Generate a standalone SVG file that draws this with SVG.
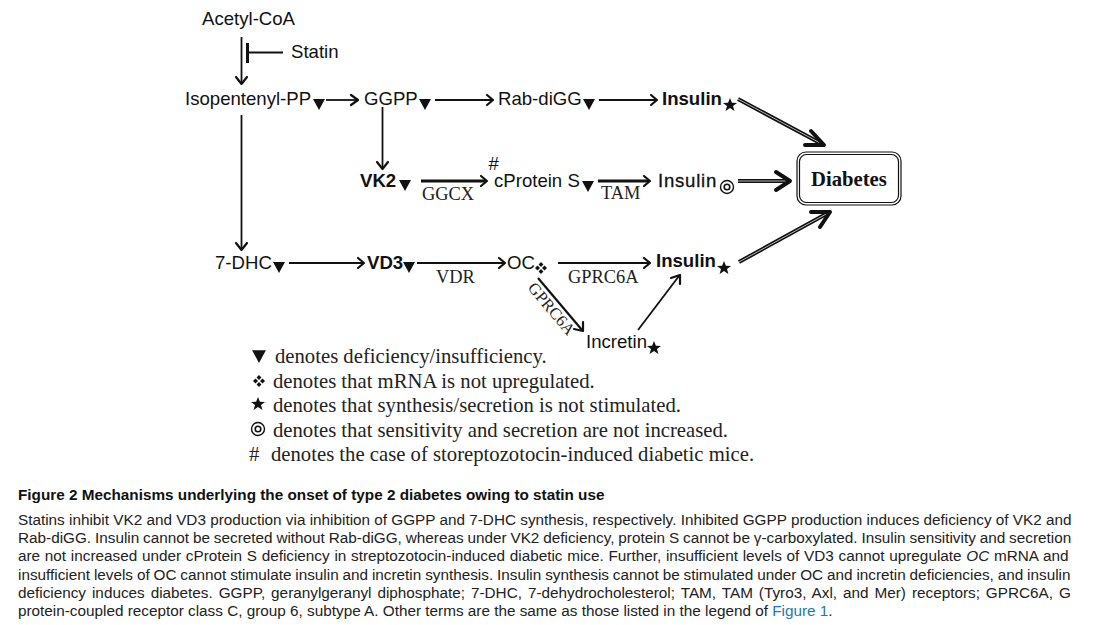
<svg xmlns="http://www.w3.org/2000/svg" width="1096" height="625" viewBox="0 0 1096 625">
<style>
text{fill:#111}
.s{font-family:"Liberation Sans",Arial,sans-serif;font-size:18.6px}
.b{font-family:"Liberation Sans",Arial,sans-serif;font-size:18.6px;font-weight:bold}
.e{font-family:"Liberation Serif","Times New Roman",serif;font-size:18.4px;fill:#222}
.l{font-family:"Liberation Serif","Times New Roman",serif;font-size:20.7px;fill:#222}
.c{font-family:"Liberation Sans",Arial,sans-serif;font-size:15.3px;fill:#222}
.t{font-family:"Liberation Sans",Arial,sans-serif;font-size:15.3px;font-weight:bold;fill:#111}
.a{fill:none;stroke:#111;stroke-width:1.8}
.a2{fill:none;stroke:#111;stroke-width:3}
.h{fill:none;stroke:#111;stroke-width:2.2;stroke-linecap:round;stroke-linejoin:round}
.d{fill:none;stroke:#111;stroke-width:4}
.di{fill:none;stroke:#ddd;stroke-width:.8}
.hh{fill:none;stroke:#111;stroke-width:4;stroke-linecap:round;stroke-linejoin:round}
</style>
<defs>
<path id="tri" d="M-6 -5H6L0 6Z" fill="#111"/>
<path id="star" d="M0 -7L1.9 -2.3L7 -2.1L3 1L4.4 6L0 3.1L-4.4 6L-3 1L-7 -2.1L-1.9 -2.3Z" fill="#111"/>
<g id="dia" fill="#111"><path d="M0 -6L2.400 -3.500L0 -1L-2.400 -3.500Z"/><path d="M0 6L2.400 3.500L0 1L-2.400 3.500Z"/><path d="M-6 0L-3.500 -2.400L-1 0L-3.500 2.400Z"/><path d="M6 0L3.500 -2.400L1 0L3.500 2.400Z"/></g>
<g id="ring" fill="none" stroke="#111"><circle r="6.500" stroke-width="1.400"/><circle r="2.800" stroke-width="1.600"/></g>
</defs>
<g id="connectors">
<path class="a" d="M241.500 37V83"/><path class="h" d="M236 77L241.500 84L247 77"/>
<path class="a2" d="M247.500 43V63"/><path class="a" d="M248 52.500H283"/>
<path class="a" d="M326 100H357"/><path class="h" d="M351 95L358 100L351 105"/>
<path class="a" d="M435 100H492"/><path class="h" d="M487 95L493 100L487 105"/>
<path class="a" d="M599 100H656"/><path class="h" d="M651 95L657 100L651 105"/>
<path class="a" d="M382.500 107V168"/><path class="h" d="M377 162L382.500 169L388 162"/>
<path class="a" d="M241.500 115V249"/><path class="h" d="M236 243L241.500 250L247 243"/>
<path class="a2" d="M421 181H486"/><path class="h" d="M481 176L487 181L481 186"/>
<path class="a2" d="M598 181H649"/><path class="h" d="M644 176L650 181L644 186"/>
<path class="a" d="M289 263H363"/><path class="h" d="M358 258L364 263L358 268"/>
<path class="a" d="M417 263H504"/><path class="h" d="M499 258L505 263L499 268"/>
<path class="a" d="M558 263H649"/><path class="h" d="M644 258L650 263L644 268"/>
<path class="a" d="M538 278L582 330" style="stroke-width:2.200"/><path class="h" d="M574 329L583 331L583 322"/>
<path class="a" d="M638 330L679 276"/><path class="h" d="M671 278L680 275L680 284"/>
<path class="d" d="M738 99L822 144"/><path class="di" d="M738 99L822 144"/><path class="hh" d="M811 131L824 145L805 145"/>
<path class="d" d="M738 181H788"/><path class="di" d="M738 181H788"/><path class="hh" d="M776 172L790 181L776 190"/>
<path class="d" d="M739 262L828 213"/><path class="di" d="M739 262L828 213"/><path class="hh" d="M811 212L830 212L820 227"/>
</g>
<g id="n-acetyl"><text class="s" x="202" y="24.500">Acetyl-CoA</text></g>
<g id="n-statin"><text class="s" x="291" y="57.500">Statin</text></g>
<g id="n-isopentenyl"><text class="s" x="185" y="104.500">Isopentenyl-PP</text><use href="#tri" x="319" y="104"/></g>
<g id="n-ggpp"><text class="s" x="364" y="104.500">GGPP</text><use href="#tri" x="425" y="104"/></g>
<g id="n-rab"><text class="s" x="498" y="104.500">Rab-diGG</text><use href="#tri" x="589" y="104"/></g>
<g id="n-insulin1"><text class="b" x="662" y="104.500">Insulin</text><use href="#star" x="730" y="105"/></g>
<g id="n-vk2"><text class="b" x="360" y="186.500">VK2</text><use href="#tri" x="405" y="185"/></g>
<g id="n-ggcx"><text class="e" x="422" y="199.500">GGCX</text></g>
<g id="n-hash"><text class="s" x="488.500" y="169.500">#</text></g>
<g id="n-cprotein"><text class="s" x="494" y="186.500">cProtein S</text><use href="#tri" x="588" y="186"/></g>
<g id="n-tam"><text class="e" x="601" y="199">TAM</text></g>
<g id="n-insulin2"><text class="s" x="658" y="186.500" style="stroke:#111;stroke-width:.3;letter-spacing:.75px">Insulin</text><use href="#ring" x="727" y="187"/></g>
<g id="n-diabetes">
<rect x="797" y="152" width="104" height="53" rx="9" fill="#fff" stroke="#111" stroke-width="1.200"/>
<rect x="799.500" y="154.500" width="99" height="48" rx="7" fill="#fff" stroke="#111" stroke-width="1.200"/>
<text class="e" x="811" y="185.500" style="font-size:20.700px;font-weight:bold;fill:#111">Diabetes</text></g>
<g id="n-7dhc"><text class="s" x="215" y="268.500">7-DHC</text><use href="#tri" x="279" y="267"/></g>
<g id="n-vd3"><text class="b" x="367" y="268.500">VD3</text><use href="#tri" x="409" y="267"/></g>
<g id="n-vdr"><text class="e" x="436" y="282.500">VDR</text></g>
<g id="n-oc"><text class="s" x="507" y="268.500">OC</text><use href="#dia" x="541" y="268"/></g>
<g id="n-gprc1"><text class="e" x="568" y="282.500">GPRC6A</text></g>
<g id="n-gprc2"><text class="e" transform="translate(527 288) rotate(50)" style="font-size:16.500px">GPRC6A</text></g>
<g id="n-insulin3"><text class="b" x="656" y="266.500">Insulin</text><use href="#star" x="724" y="268"/></g>
<g id="n-incretin"><text class="s" x="586" y="347.500">Incretin</text><use href="#star" x="654" y="348"/></g>
<g id="legend">
<use href="#tri" transform="translate(259 356) scale(1.150)"/><text class="l" x="275" y="363">denotes deficiency/insufficiency.</text>
<use href="#dia" x="259" y="381"/><text class="l" x="273" y="388">denotes that mRNA is not upregulated.</text>
<use href="#star" x="258" y="404"/><text class="l" x="273" y="412">denotes that synthesis/secretion is not stimulated.</text>
<use href="#ring" x="258" y="429"/><text class="l" x="273" y="437">denotes that sensitivity and secretion are not increased.</text>
<text class="l" x="249" y="461">#</text><text class="l" x="271" y="461">denotes the case of storeptozotocin-induced diabetic mice.</text>
</g>
<g id="caption">
<text class="t" x="18" y="500">Figure 2 Mechanisms underlying the onset of type 2 diabetes owing to statin use</text>
<text class="c" x="18" y="525">Statins inhibit VK2 and VD3 production via inhibition of GGPP and 7-DHC synthesis, respectively. Inhibited GGPP production induces deficiency of VK2 and</text>
<text class="c" x="18" y="543" word-spacing="-.36">Rab-diGG. Insulin cannot be secreted without Rab-diGG, whereas under VK2 deficiency, protein S cannot be γ-carboxylated. Insulin sensitivity and secretion</text>
<text class="c" x="18" y="561" word-spacing=".5">are not increased under cProtein S deficiency in streptozotocin-induced diabetic mice. Further, insufficient levels of VD3 cannot upregulate <tspan font-style="italic">OC</tspan> mRNA and</text>
<text class="c" x="18" y="580" word-spacing="-.36">insufficient levels of OC cannot stimulate insulin and incretin synthesis. Insulin synthesis cannot be stimulated under OC and incretin deficiencies, and insulin</text>
<text class="c" x="18" y="598" word-spacing="1.7">deficiency induces diabetes. GGPP, geranylgeranyl diphosphate; 7-DHC, 7-dehydrocholesterol; TAM, TAM (Tyro3, Axl, and Mer) receptors; GPRC6A, G</text>
<text class="c" x="18" y="616">protein-coupled receptor class C, group 6, subtype A. Other terms are the same as those listed in the legend of <tspan style="fill:#1a7ab5">Figure 1</tspan>.</text>
</g>
</svg>
